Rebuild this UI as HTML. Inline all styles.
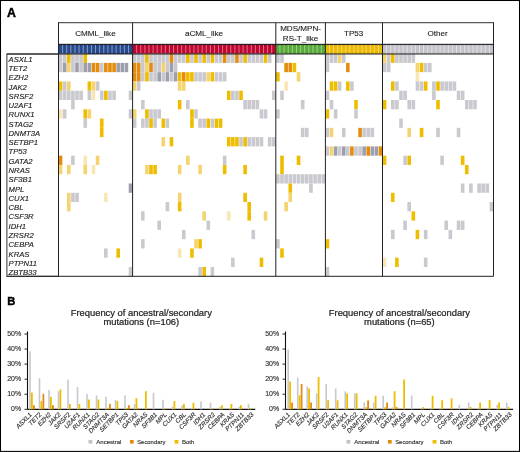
<!DOCTYPE html><html><head><meta charset="utf-8"><style>html,body{margin:0;padding:0;background:#fff;width:520px;height:452px;overflow:hidden}svg{display:block;will-change:transform}text{font-family:"Liberation Sans",sans-serif}.t{stroke:#222;stroke-width:0.12}.t2{stroke:#333;stroke-width:0.15}.t3{stroke:#222;stroke-width:0.14}.t4{stroke:#222;stroke-width:0.22}</style></head><body>
<svg width="520" height="452" viewBox="0 0 520 452">
<rect x="0" y="0" width="520" height="452" fill="#fff"/>
<rect x="0.5" y="0.5" width="519" height="450.9" fill="none" stroke="#000" stroke-width="1.05"/>
<text x="6.9" y="16.6" font-size="12.3" font-weight="bold" fill="#000" stroke="#000" stroke-width="0.45">A</text>
<rect x="58.5" y="22.7" width="435.0" height="21.7" fill="#fff" stroke="#333" stroke-width="1"/>
<text x="95.4" y="36.2" class="t" font-size="8.1" text-anchor="middle" fill="#222">CMML_like</text>
<text x="204" y="36.2" class="t" font-size="8.1" text-anchor="middle" fill="#222">aCML_like</text>
<text x="353.7" y="36.2" class="t" font-size="8.1" text-anchor="middle" fill="#222">TP53</text>
<text x="437.5" y="36.2" class="t" font-size="8.1" text-anchor="middle" fill="#222">Other</text>
<text x="300.6" y="30.8" class="t" font-size="8.1" text-anchor="middle" fill="#222">MDS/MPN-</text>
<text x="300.6" y="40.8" class="t" font-size="8.1" text-anchor="middle" fill="#222">RS-T_like</text>
<rect x="58.5" y="44.4" width="74.1" height="9.600000000000001" fill="#284a8a"/>
<rect x="58.5" y="44.8" width="74.1" height="1" fill="#15336e" opacity="0.6"/>
<rect x="58.5" y="52.5" width="74.1" height="1" fill="#15336e" opacity="0.6"/>
<rect x="62.17" y="45.0" width="0.9" height="8.400000000000002" fill="#8ba2cf"/>
<rect x="66.28" y="45.0" width="0.9" height="8.400000000000002" fill="#8ba2cf"/>
<rect x="70.40" y="45.0" width="0.9" height="8.400000000000002" fill="#8ba2cf"/>
<rect x="74.52" y="45.0" width="0.9" height="8.400000000000002" fill="#8ba2cf"/>
<rect x="78.63" y="45.0" width="0.9" height="8.400000000000002" fill="#8ba2cf"/>
<rect x="82.75" y="45.0" width="0.9" height="8.400000000000002" fill="#8ba2cf"/>
<rect x="86.87" y="45.0" width="0.9" height="8.400000000000002" fill="#8ba2cf"/>
<rect x="90.98" y="45.0" width="0.9" height="8.400000000000002" fill="#8ba2cf"/>
<rect x="95.10" y="45.0" width="0.9" height="8.400000000000002" fill="#8ba2cf"/>
<rect x="99.22" y="45.0" width="0.9" height="8.400000000000002" fill="#8ba2cf"/>
<rect x="103.33" y="45.0" width="0.9" height="8.400000000000002" fill="#8ba2cf"/>
<rect x="107.45" y="45.0" width="0.9" height="8.400000000000002" fill="#8ba2cf"/>
<rect x="111.57" y="45.0" width="0.9" height="8.400000000000002" fill="#8ba2cf"/>
<rect x="115.68" y="45.0" width="0.9" height="8.400000000000002" fill="#8ba2cf"/>
<rect x="119.80" y="45.0" width="0.9" height="8.400000000000002" fill="#8ba2cf"/>
<rect x="123.92" y="45.0" width="0.9" height="8.400000000000002" fill="#8ba2cf"/>
<rect x="128.03" y="45.0" width="0.9" height="8.400000000000002" fill="#8ba2cf"/>
<rect x="132.6" y="44.4" width="143.20000000000002" height="9.600000000000001" fill="#bf0630"/>
<rect x="132.6" y="44.8" width="143.20000000000002" height="1" fill="#8c0022" opacity="0.6"/>
<rect x="132.6" y="52.5" width="143.20000000000002" height="1" fill="#8c0022" opacity="0.6"/>
<rect x="136.24" y="45.0" width="0.9" height="8.400000000000002" fill="#e07890"/>
<rect x="140.33" y="45.0" width="0.9" height="8.400000000000002" fill="#e07890"/>
<rect x="144.42" y="45.0" width="0.9" height="8.400000000000002" fill="#e07890"/>
<rect x="148.52" y="45.0" width="0.9" height="8.400000000000002" fill="#e07890"/>
<rect x="152.61" y="45.0" width="0.9" height="8.400000000000002" fill="#e07890"/>
<rect x="156.70" y="45.0" width="0.9" height="8.400000000000002" fill="#e07890"/>
<rect x="160.79" y="45.0" width="0.9" height="8.400000000000002" fill="#e07890"/>
<rect x="164.88" y="45.0" width="0.9" height="8.400000000000002" fill="#e07890"/>
<rect x="168.97" y="45.0" width="0.9" height="8.400000000000002" fill="#e07890"/>
<rect x="173.06" y="45.0" width="0.9" height="8.400000000000002" fill="#e07890"/>
<rect x="177.16" y="45.0" width="0.9" height="8.400000000000002" fill="#e07890"/>
<rect x="181.25" y="45.0" width="0.9" height="8.400000000000002" fill="#e07890"/>
<rect x="185.34" y="45.0" width="0.9" height="8.400000000000002" fill="#e07890"/>
<rect x="189.43" y="45.0" width="0.9" height="8.400000000000002" fill="#e07890"/>
<rect x="193.52" y="45.0" width="0.9" height="8.400000000000002" fill="#e07890"/>
<rect x="197.61" y="45.0" width="0.9" height="8.400000000000002" fill="#e07890"/>
<rect x="201.70" y="45.0" width="0.9" height="8.400000000000002" fill="#e07890"/>
<rect x="205.80" y="45.0" width="0.9" height="8.400000000000002" fill="#e07890"/>
<rect x="209.89" y="45.0" width="0.9" height="8.400000000000002" fill="#e07890"/>
<rect x="213.98" y="45.0" width="0.9" height="8.400000000000002" fill="#e07890"/>
<rect x="218.07" y="45.0" width="0.9" height="8.400000000000002" fill="#e07890"/>
<rect x="222.16" y="45.0" width="0.9" height="8.400000000000002" fill="#e07890"/>
<rect x="226.25" y="45.0" width="0.9" height="8.400000000000002" fill="#e07890"/>
<rect x="230.34" y="45.0" width="0.9" height="8.400000000000002" fill="#e07890"/>
<rect x="234.44" y="45.0" width="0.9" height="8.400000000000002" fill="#e07890"/>
<rect x="238.53" y="45.0" width="0.9" height="8.400000000000002" fill="#e07890"/>
<rect x="242.62" y="45.0" width="0.9" height="8.400000000000002" fill="#e07890"/>
<rect x="246.71" y="45.0" width="0.9" height="8.400000000000002" fill="#e07890"/>
<rect x="250.80" y="45.0" width="0.9" height="8.400000000000002" fill="#e07890"/>
<rect x="254.89" y="45.0" width="0.9" height="8.400000000000002" fill="#e07890"/>
<rect x="258.98" y="45.0" width="0.9" height="8.400000000000002" fill="#e07890"/>
<rect x="263.08" y="45.0" width="0.9" height="8.400000000000002" fill="#e07890"/>
<rect x="267.17" y="45.0" width="0.9" height="8.400000000000002" fill="#e07890"/>
<rect x="271.26" y="45.0" width="0.9" height="8.400000000000002" fill="#e07890"/>
<rect x="275.8" y="44.4" width="49.599999999999966" height="9.600000000000001" fill="#58aa3a"/>
<rect x="275.8" y="44.8" width="49.599999999999966" height="1" fill="#3d8a28" opacity="0.6"/>
<rect x="275.8" y="52.5" width="49.599999999999966" height="1" fill="#3d8a28" opacity="0.6"/>
<rect x="279.48" y="45.0" width="0.9" height="8.400000000000002" fill="#a6d48e"/>
<rect x="283.62" y="45.0" width="0.9" height="8.400000000000002" fill="#a6d48e"/>
<rect x="287.75" y="45.0" width="0.9" height="8.400000000000002" fill="#a6d48e"/>
<rect x="291.88" y="45.0" width="0.9" height="8.400000000000002" fill="#a6d48e"/>
<rect x="296.02" y="45.0" width="0.9" height="8.400000000000002" fill="#a6d48e"/>
<rect x="300.15" y="45.0" width="0.9" height="8.400000000000002" fill="#a6d48e"/>
<rect x="304.28" y="45.0" width="0.9" height="8.400000000000002" fill="#a6d48e"/>
<rect x="308.42" y="45.0" width="0.9" height="8.400000000000002" fill="#a6d48e"/>
<rect x="312.55" y="45.0" width="0.9" height="8.400000000000002" fill="#a6d48e"/>
<rect x="316.68" y="45.0" width="0.9" height="8.400000000000002" fill="#a6d48e"/>
<rect x="320.82" y="45.0" width="0.9" height="8.400000000000002" fill="#a6d48e"/>
<rect x="325.4" y="44.4" width="57.10000000000002" height="9.600000000000001" fill="#edbb00"/>
<rect x="325.4" y="44.8" width="57.10000000000002" height="1" fill="#c89800" opacity="0.6"/>
<rect x="325.4" y="52.5" width="57.10000000000002" height="1" fill="#c89800" opacity="0.6"/>
<rect x="329.03" y="45.0" width="0.9" height="8.400000000000002" fill="#f6da80"/>
<rect x="333.11" y="45.0" width="0.9" height="8.400000000000002" fill="#f6da80"/>
<rect x="337.19" y="45.0" width="0.9" height="8.400000000000002" fill="#f6da80"/>
<rect x="341.26" y="45.0" width="0.9" height="8.400000000000002" fill="#f6da80"/>
<rect x="345.34" y="45.0" width="0.9" height="8.400000000000002" fill="#f6da80"/>
<rect x="349.42" y="45.0" width="0.9" height="8.400000000000002" fill="#f6da80"/>
<rect x="353.50" y="45.0" width="0.9" height="8.400000000000002" fill="#f6da80"/>
<rect x="357.58" y="45.0" width="0.9" height="8.400000000000002" fill="#f6da80"/>
<rect x="361.66" y="45.0" width="0.9" height="8.400000000000002" fill="#f6da80"/>
<rect x="365.74" y="45.0" width="0.9" height="8.400000000000002" fill="#f6da80"/>
<rect x="369.81" y="45.0" width="0.9" height="8.400000000000002" fill="#f6da80"/>
<rect x="373.89" y="45.0" width="0.9" height="8.400000000000002" fill="#f6da80"/>
<rect x="377.97" y="45.0" width="0.9" height="8.400000000000002" fill="#f6da80"/>
<rect x="382.5" y="44.4" width="111.0" height="9.600000000000001" fill="#c4c4ca"/>
<rect x="382.5" y="44.8" width="111.0" height="1" fill="#a8a8b0" opacity="0.6"/>
<rect x="382.5" y="52.5" width="111.0" height="1" fill="#a8a8b0" opacity="0.6"/>
<rect x="386.16" y="45.0" width="0.9" height="8.400000000000002" fill="#e4e4e8"/>
<rect x="390.27" y="45.0" width="0.9" height="8.400000000000002" fill="#e4e4e8"/>
<rect x="394.38" y="45.0" width="0.9" height="8.400000000000002" fill="#e4e4e8"/>
<rect x="398.49" y="45.0" width="0.9" height="8.400000000000002" fill="#e4e4e8"/>
<rect x="402.61" y="45.0" width="0.9" height="8.400000000000002" fill="#e4e4e8"/>
<rect x="406.72" y="45.0" width="0.9" height="8.400000000000002" fill="#e4e4e8"/>
<rect x="410.83" y="45.0" width="0.9" height="8.400000000000002" fill="#e4e4e8"/>
<rect x="414.94" y="45.0" width="0.9" height="8.400000000000002" fill="#e4e4e8"/>
<rect x="419.05" y="45.0" width="0.9" height="8.400000000000002" fill="#e4e4e8"/>
<rect x="423.16" y="45.0" width="0.9" height="8.400000000000002" fill="#e4e4e8"/>
<rect x="427.27" y="45.0" width="0.9" height="8.400000000000002" fill="#e4e4e8"/>
<rect x="431.38" y="45.0" width="0.9" height="8.400000000000002" fill="#e4e4e8"/>
<rect x="435.49" y="45.0" width="0.9" height="8.400000000000002" fill="#e4e4e8"/>
<rect x="439.61" y="45.0" width="0.9" height="8.400000000000002" fill="#e4e4e8"/>
<rect x="443.72" y="45.0" width="0.9" height="8.400000000000002" fill="#e4e4e8"/>
<rect x="447.83" y="45.0" width="0.9" height="8.400000000000002" fill="#e4e4e8"/>
<rect x="451.94" y="45.0" width="0.9" height="8.400000000000002" fill="#e4e4e8"/>
<rect x="456.05" y="45.0" width="0.9" height="8.400000000000002" fill="#e4e4e8"/>
<rect x="460.16" y="45.0" width="0.9" height="8.400000000000002" fill="#e4e4e8"/>
<rect x="464.27" y="45.0" width="0.9" height="8.400000000000002" fill="#e4e4e8"/>
<rect x="468.38" y="45.0" width="0.9" height="8.400000000000002" fill="#e4e4e8"/>
<rect x="472.49" y="45.0" width="0.9" height="8.400000000000002" fill="#e4e4e8"/>
<rect x="476.61" y="45.0" width="0.9" height="8.400000000000002" fill="#e4e4e8"/>
<rect x="480.72" y="45.0" width="0.9" height="8.400000000000002" fill="#e4e4e8"/>
<rect x="484.83" y="45.0" width="0.9" height="8.400000000000002" fill="#e4e4e8"/>
<rect x="488.94" y="45.0" width="0.9" height="8.400000000000002" fill="#e4e4e8"/>
<line x1="58.5" y1="44.4" x2="493.5" y2="44.4" stroke="#222" stroke-width="1"/>
<rect x="58.75" y="53.62" width="3.62" height="9.28" fill="#c9c9cf"/>
<rect x="62.87" y="53.62" width="3.62" height="9.28" fill="#c9c9cf"/>
<rect x="66.98" y="53.62" width="3.62" height="9.28" fill="#efbd00"/>
<rect x="71.10" y="53.62" width="3.62" height="9.28" fill="#c9c9cf"/>
<rect x="75.22" y="53.62" width="3.62" height="9.28" fill="#c9c9cf"/>
<rect x="79.33" y="53.62" width="3.62" height="9.28" fill="#c9c9cf"/>
<rect x="83.45" y="53.62" width="3.62" height="9.28" fill="#efbd00"/>
<rect x="132.85" y="53.62" width="3.59" height="9.28" fill="#c9c9cf"/>
<rect x="136.94" y="53.62" width="3.59" height="9.28" fill="#c9c9cf"/>
<rect x="141.03" y="53.62" width="3.59" height="9.28" fill="#c9c9cf"/>
<rect x="145.12" y="53.62" width="3.59" height="9.28" fill="#efbd00"/>
<rect x="149.22" y="53.62" width="3.59" height="9.28" fill="#c9c9cf"/>
<rect x="153.31" y="53.62" width="3.59" height="9.28" fill="#c9c9cf"/>
<rect x="157.40" y="53.62" width="3.59" height="9.28" fill="#c9c9cf"/>
<rect x="161.49" y="53.62" width="3.59" height="9.28" fill="#c9c9cf"/>
<rect x="165.58" y="53.62" width="3.59" height="9.28" fill="#c9c9cf"/>
<rect x="169.67" y="53.62" width="3.59" height="9.28" fill="#e38c0d"/>
<rect x="173.76" y="53.62" width="3.59" height="9.28" fill="#c9c9cf"/>
<rect x="177.86" y="53.62" width="3.59" height="9.28" fill="#c9c9cf"/>
<rect x="181.95" y="53.62" width="3.59" height="9.28" fill="#c9c9cf"/>
<rect x="186.04" y="53.62" width="3.59" height="9.28" fill="#efbd00"/>
<rect x="190.13" y="53.62" width="3.59" height="9.28" fill="#c9c9cf"/>
<rect x="194.22" y="53.62" width="3.59" height="9.28" fill="#efbd00"/>
<rect x="198.31" y="53.62" width="3.59" height="9.28" fill="#c9c9cf"/>
<rect x="202.40" y="53.62" width="3.59" height="9.28" fill="#efbd00"/>
<rect x="206.50" y="53.62" width="3.59" height="9.28" fill="#c9c9cf"/>
<rect x="210.59" y="53.62" width="3.59" height="9.28" fill="#efbd00"/>
<rect x="214.68" y="53.62" width="3.59" height="9.28" fill="#c9c9cf"/>
<rect x="218.77" y="53.62" width="3.59" height="9.28" fill="#c9c9cf"/>
<rect x="222.86" y="53.62" width="3.59" height="9.28" fill="#e38c0d"/>
<rect x="226.95" y="53.62" width="3.59" height="9.28" fill="#c9c9cf"/>
<rect x="231.04" y="53.62" width="3.59" height="9.28" fill="#c9c9cf"/>
<rect x="235.14" y="53.62" width="3.59" height="9.28" fill="#e38c0d"/>
<rect x="239.23" y="53.62" width="3.59" height="9.28" fill="#c9c9cf"/>
<rect x="243.32" y="53.62" width="3.59" height="9.28" fill="#efbd00"/>
<rect x="247.41" y="53.62" width="3.59" height="9.28" fill="#c9c9cf"/>
<rect x="251.50" y="53.62" width="3.59" height="9.28" fill="#c9c9cf"/>
<rect x="255.59" y="53.62" width="3.59" height="9.28" fill="#c9c9cf"/>
<rect x="259.68" y="53.62" width="3.59" height="9.28" fill="#c9c9cf"/>
<rect x="263.78" y="53.62" width="3.59" height="9.28" fill="#efbd00"/>
<rect x="267.87" y="53.62" width="3.59" height="9.28" fill="#c9c9cf"/>
<rect x="276.05" y="53.62" width="3.63" height="9.28" fill="#c9c9cf"/>
<rect x="280.18" y="53.62" width="3.63" height="9.28" fill="#c9c9cf"/>
<rect x="325.65" y="53.62" width="3.58" height="9.28" fill="#c9c9cf"/>
<rect x="329.73" y="53.62" width="3.58" height="9.28" fill="#c9c9cf"/>
<rect x="333.81" y="53.62" width="3.58" height="9.28" fill="#c9c9cf"/>
<rect x="337.89" y="53.62" width="3.58" height="9.28" fill="#f5d36f"/>
<rect x="341.96" y="53.62" width="3.58" height="9.28" fill="#c9c9cf"/>
<rect x="382.75" y="53.62" width="3.61" height="9.28" fill="#f5d36f"/>
<rect x="386.86" y="53.62" width="3.61" height="9.28" fill="#c9c9cf"/>
<rect x="390.97" y="53.62" width="3.61" height="9.28" fill="#efbd00"/>
<rect x="395.08" y="53.62" width="3.61" height="9.28" fill="#c9c9cf"/>
<rect x="399.19" y="53.62" width="3.61" height="9.28" fill="#c9c9cf"/>
<rect x="403.31" y="53.62" width="3.61" height="9.28" fill="#c9c9cf"/>
<rect x="407.42" y="53.62" width="3.61" height="9.28" fill="#c9c9cf"/>
<rect x="411.53" y="53.62" width="3.61" height="9.28" fill="#c9c9cf"/>
<rect x="58.75" y="62.90" width="3.62" height="9.28" fill="#c9c9cf"/>
<rect x="62.87" y="62.90" width="3.62" height="9.28" fill="#9d9fad"/>
<rect x="66.98" y="62.90" width="3.62" height="9.28" fill="#f5d36f"/>
<rect x="71.10" y="62.90" width="3.62" height="9.28" fill="#c9c9cf"/>
<rect x="75.22" y="62.90" width="3.62" height="9.28" fill="#9d9fad"/>
<rect x="79.33" y="62.90" width="3.62" height="9.28" fill="#c9c9cf"/>
<rect x="83.45" y="62.90" width="3.62" height="9.28" fill="#9d9fad"/>
<rect x="87.57" y="62.90" width="3.62" height="9.28" fill="#9d9fad"/>
<rect x="91.68" y="62.90" width="3.62" height="9.28" fill="#e38c0d"/>
<rect x="95.80" y="62.90" width="3.62" height="9.28" fill="#e38c0d"/>
<rect x="99.92" y="62.90" width="3.62" height="9.28" fill="#c9c9cf"/>
<rect x="104.03" y="62.90" width="3.62" height="9.28" fill="#e38c0d"/>
<rect x="108.15" y="62.90" width="3.62" height="9.28" fill="#e38c0d"/>
<rect x="112.27" y="62.90" width="3.62" height="9.28" fill="#e38c0d"/>
<rect x="116.38" y="62.90" width="3.62" height="9.28" fill="#9d9fad"/>
<rect x="120.50" y="62.90" width="3.62" height="9.28" fill="#9d9fad"/>
<rect x="124.62" y="62.90" width="3.62" height="9.28" fill="#9d9fad"/>
<rect x="132.85" y="62.90" width="3.59" height="9.28" fill="#e38c0d"/>
<rect x="136.94" y="62.90" width="3.59" height="9.28" fill="#e38c0d"/>
<rect x="141.03" y="62.90" width="3.59" height="9.28" fill="#c9c9cf"/>
<rect x="145.12" y="62.90" width="3.59" height="9.28" fill="#f5d36f"/>
<rect x="149.22" y="62.90" width="3.59" height="9.28" fill="#e38c0d"/>
<rect x="153.31" y="62.90" width="3.59" height="9.28" fill="#c9c9cf"/>
<rect x="157.40" y="62.90" width="3.59" height="9.28" fill="#c9c9cf"/>
<rect x="161.49" y="62.90" width="3.59" height="9.28" fill="#f5d36f"/>
<rect x="165.58" y="62.90" width="3.59" height="9.28" fill="#c9c9cf"/>
<rect x="169.67" y="62.90" width="3.59" height="9.28" fill="#9d9fad"/>
<rect x="173.76" y="62.90" width="3.59" height="9.28" fill="#c9c9cf"/>
<rect x="284.32" y="62.90" width="3.63" height="9.28" fill="#e38c0d"/>
<rect x="288.45" y="62.90" width="3.63" height="9.28" fill="#e38c0d"/>
<rect x="292.58" y="62.90" width="3.63" height="9.28" fill="#efbd00"/>
<rect x="325.65" y="62.90" width="3.58" height="9.28" fill="#c9c9cf"/>
<rect x="346.04" y="62.90" width="3.58" height="9.28" fill="#e38c0d"/>
<rect x="382.75" y="62.90" width="3.61" height="9.28" fill="#c9c9cf"/>
<rect x="386.86" y="62.90" width="3.61" height="9.28" fill="#c9c9cf"/>
<rect x="415.64" y="62.90" width="3.61" height="9.28" fill="#f5d36f"/>
<rect x="419.75" y="62.90" width="3.61" height="9.28" fill="#efbd00"/>
<rect x="423.86" y="62.90" width="3.61" height="9.28" fill="#c9c9cf"/>
<rect x="427.97" y="62.90" width="3.61" height="9.28" fill="#c9c9cf"/>
<rect x="132.85" y="72.17" width="3.59" height="9.28" fill="#e38c0d"/>
<rect x="136.94" y="72.17" width="3.59" height="9.28" fill="#e38c0d"/>
<rect x="141.03" y="72.17" width="3.59" height="9.28" fill="#c9c9cf"/>
<rect x="145.12" y="72.17" width="3.59" height="9.28" fill="#efbd00"/>
<rect x="149.22" y="72.17" width="3.59" height="9.28" fill="#c9c9cf"/>
<rect x="153.31" y="72.17" width="3.59" height="9.28" fill="#c9c9cf"/>
<rect x="157.40" y="72.17" width="3.59" height="9.28" fill="#9d9fad"/>
<rect x="161.49" y="72.17" width="3.59" height="9.28" fill="#c9c9cf"/>
<rect x="165.58" y="72.17" width="3.59" height="9.28" fill="#9d9fad"/>
<rect x="169.67" y="72.17" width="3.59" height="9.28" fill="#c9c9cf"/>
<rect x="173.76" y="72.17" width="3.59" height="9.28" fill="#9d9fad"/>
<rect x="177.86" y="72.17" width="3.59" height="9.28" fill="#efbd00"/>
<rect x="181.95" y="72.17" width="3.59" height="9.28" fill="#e38c0d"/>
<rect x="186.04" y="72.17" width="3.59" height="9.28" fill="#efbd00"/>
<rect x="190.13" y="72.17" width="3.59" height="9.28" fill="#efbd00"/>
<rect x="194.22" y="72.17" width="3.59" height="9.28" fill="#c9c9cf"/>
<rect x="198.31" y="72.17" width="3.59" height="9.28" fill="#c9c9cf"/>
<rect x="202.40" y="72.17" width="3.59" height="9.28" fill="#c9c9cf"/>
<rect x="206.50" y="72.17" width="3.59" height="9.28" fill="#f5d36f"/>
<rect x="210.59" y="72.17" width="3.59" height="9.28" fill="#efbd00"/>
<rect x="214.68" y="72.17" width="3.59" height="9.28" fill="#c9c9cf"/>
<rect x="218.77" y="72.17" width="3.59" height="9.28" fill="#c9c9cf"/>
<rect x="222.86" y="72.17" width="3.59" height="9.28" fill="#c9c9cf"/>
<rect x="276.05" y="72.17" width="3.63" height="9.28" fill="#efbd00"/>
<rect x="296.72" y="72.17" width="3.63" height="9.28" fill="#f5d36f"/>
<rect x="415.64" y="72.17" width="3.61" height="9.28" fill="#f8e6b4"/>
<rect x="58.75" y="81.45" width="3.62" height="9.28" fill="#efbd00"/>
<rect x="62.87" y="81.45" width="3.62" height="9.28" fill="#c9c9cf"/>
<rect x="66.98" y="81.45" width="3.62" height="9.28" fill="#f5d36f"/>
<rect x="87.57" y="81.45" width="3.62" height="9.28" fill="#efbd00"/>
<rect x="91.68" y="81.45" width="3.62" height="9.28" fill="#f5d36f"/>
<rect x="95.80" y="81.45" width="3.62" height="9.28" fill="#c9c9cf"/>
<rect x="132.85" y="81.45" width="3.59" height="9.28" fill="#f5d36f"/>
<rect x="136.94" y="81.45" width="3.59" height="9.28" fill="#c9c9cf"/>
<rect x="177.86" y="81.45" width="3.59" height="9.28" fill="#f5d36f"/>
<rect x="181.95" y="81.45" width="3.59" height="9.28" fill="#f5d36f"/>
<rect x="284.32" y="81.45" width="3.63" height="9.28" fill="#f8e6b4"/>
<rect x="329.73" y="81.45" width="3.58" height="9.28" fill="#efbd00"/>
<rect x="333.81" y="81.45" width="3.58" height="9.28" fill="#efbd00"/>
<rect x="337.89" y="81.45" width="3.58" height="9.28" fill="#c9c9cf"/>
<rect x="346.04" y="81.45" width="3.58" height="9.28" fill="#efbd00"/>
<rect x="350.12" y="81.45" width="3.58" height="9.28" fill="#c9c9cf"/>
<rect x="390.97" y="81.45" width="3.61" height="9.28" fill="#efbd00"/>
<rect x="395.08" y="81.45" width="3.61" height="9.28" fill="#c9c9cf"/>
<rect x="415.64" y="81.45" width="3.61" height="9.28" fill="#c9c9cf"/>
<rect x="419.75" y="81.45" width="3.61" height="9.28" fill="#c9c9cf"/>
<rect x="423.86" y="81.45" width="3.61" height="9.28" fill="#efbd00"/>
<rect x="432.08" y="81.45" width="3.61" height="9.28" fill="#c9c9cf"/>
<rect x="436.19" y="81.45" width="3.61" height="9.28" fill="#efbd00"/>
<rect x="440.31" y="81.45" width="3.61" height="9.28" fill="#c9c9cf"/>
<rect x="444.42" y="81.45" width="3.61" height="9.28" fill="#c9c9cf"/>
<rect x="448.53" y="81.45" width="3.61" height="9.28" fill="#c9c9cf"/>
<rect x="452.64" y="81.45" width="3.61" height="9.28" fill="#c9c9cf"/>
<rect x="58.75" y="90.73" width="3.62" height="9.28" fill="#c9c9cf"/>
<rect x="62.87" y="90.73" width="3.62" height="9.28" fill="#c9c9cf"/>
<rect x="66.98" y="90.73" width="3.62" height="9.28" fill="#c9c9cf"/>
<rect x="71.10" y="90.73" width="3.62" height="9.28" fill="#c9c9cf"/>
<rect x="75.22" y="90.73" width="3.62" height="9.28" fill="#c9c9cf"/>
<rect x="79.33" y="90.73" width="3.62" height="9.28" fill="#c9c9cf"/>
<rect x="87.57" y="90.73" width="3.62" height="9.28" fill="#c9c9cf"/>
<rect x="91.68" y="90.73" width="3.62" height="9.28" fill="#f8e6b4"/>
<rect x="99.92" y="90.73" width="3.62" height="9.28" fill="#c9c9cf"/>
<rect x="104.03" y="90.73" width="3.62" height="9.28" fill="#efbd00"/>
<rect x="108.15" y="90.73" width="3.62" height="9.28" fill="#c9c9cf"/>
<rect x="112.27" y="90.73" width="3.62" height="9.28" fill="#c9c9cf"/>
<rect x="128.73" y="90.73" width="3.62" height="9.28" fill="#c9c9cf"/>
<rect x="226.95" y="90.73" width="3.59" height="9.28" fill="#efbd00"/>
<rect x="231.04" y="90.73" width="3.59" height="9.28" fill="#c9c9cf"/>
<rect x="235.14" y="90.73" width="3.59" height="9.28" fill="#c9c9cf"/>
<rect x="239.23" y="90.73" width="3.59" height="9.28" fill="#efbd00"/>
<rect x="271.96" y="90.73" width="3.59" height="9.28" fill="#c9c9cf"/>
<rect x="280.18" y="90.73" width="3.63" height="9.28" fill="#c9c9cf"/>
<rect x="325.65" y="90.73" width="3.58" height="9.28" fill="#c9c9cf"/>
<rect x="399.19" y="90.73" width="3.61" height="9.28" fill="#c9c9cf"/>
<rect x="403.31" y="90.73" width="3.61" height="9.28" fill="#c9c9cf"/>
<rect x="432.08" y="90.73" width="3.61" height="9.28" fill="#c9c9cf"/>
<rect x="456.75" y="90.73" width="3.61" height="9.28" fill="#c9c9cf"/>
<rect x="460.86" y="90.73" width="3.61" height="9.28" fill="#c9c9cf"/>
<rect x="71.10" y="100.00" width="3.62" height="9.28" fill="#c9c9cf"/>
<rect x="141.03" y="100.00" width="3.59" height="9.28" fill="#c9c9cf"/>
<rect x="177.86" y="100.00" width="3.59" height="9.28" fill="#efbd00"/>
<rect x="186.04" y="100.00" width="3.59" height="9.28" fill="#c9c9cf"/>
<rect x="243.32" y="100.00" width="3.59" height="9.28" fill="#c9c9cf"/>
<rect x="247.41" y="100.00" width="3.59" height="9.28" fill="#c9c9cf"/>
<rect x="251.50" y="100.00" width="3.59" height="9.28" fill="#c9c9cf"/>
<rect x="255.59" y="100.00" width="3.59" height="9.28" fill="#c9c9cf"/>
<rect x="300.85" y="100.00" width="3.63" height="9.28" fill="#c9c9cf"/>
<rect x="329.73" y="100.00" width="3.58" height="9.28" fill="#c9c9cf"/>
<rect x="354.20" y="100.00" width="3.58" height="9.28" fill="#efbd00"/>
<rect x="382.75" y="100.00" width="3.61" height="9.28" fill="#efbd00"/>
<rect x="390.97" y="100.00" width="3.61" height="9.28" fill="#c9c9cf"/>
<rect x="395.08" y="100.00" width="3.61" height="9.28" fill="#c9c9cf"/>
<rect x="407.42" y="100.00" width="3.61" height="9.28" fill="#c9c9cf"/>
<rect x="411.53" y="100.00" width="3.61" height="9.28" fill="#c9c9cf"/>
<rect x="436.19" y="100.00" width="3.61" height="9.28" fill="#efbd00"/>
<rect x="464.97" y="100.00" width="3.61" height="9.28" fill="#c9c9cf"/>
<rect x="469.08" y="100.00" width="3.61" height="9.28" fill="#c9c9cf"/>
<rect x="473.19" y="100.00" width="3.61" height="9.28" fill="#c9c9cf"/>
<rect x="58.75" y="109.28" width="3.62" height="9.28" fill="#f8e6b4"/>
<rect x="62.87" y="109.28" width="3.62" height="9.28" fill="#c9c9cf"/>
<rect x="83.45" y="109.28" width="3.62" height="9.28" fill="#efbd00"/>
<rect x="87.57" y="109.28" width="3.62" height="9.28" fill="#f5d36f"/>
<rect x="128.73" y="109.28" width="3.62" height="9.28" fill="#c9c9cf"/>
<rect x="132.85" y="109.28" width="3.59" height="9.28" fill="#f5d36f"/>
<rect x="145.12" y="109.28" width="3.59" height="9.28" fill="#efbd00"/>
<rect x="149.22" y="109.28" width="3.59" height="9.28" fill="#c9c9cf"/>
<rect x="153.31" y="109.28" width="3.59" height="9.28" fill="#c9c9cf"/>
<rect x="157.40" y="109.28" width="3.59" height="9.28" fill="#c9c9cf"/>
<rect x="190.13" y="109.28" width="3.59" height="9.28" fill="#efbd00"/>
<rect x="194.22" y="109.28" width="3.59" height="9.28" fill="#c9c9cf"/>
<rect x="259.68" y="109.28" width="3.59" height="9.28" fill="#c9c9cf"/>
<rect x="263.78" y="109.28" width="3.59" height="9.28" fill="#c9c9cf"/>
<rect x="276.05" y="109.28" width="3.63" height="9.28" fill="#c9c9cf"/>
<rect x="325.65" y="109.28" width="3.58" height="9.28" fill="#efbd00"/>
<rect x="333.81" y="109.28" width="3.58" height="9.28" fill="#c9c9cf"/>
<rect x="354.20" y="109.28" width="3.58" height="9.28" fill="#c9c9cf"/>
<rect x="83.45" y="118.56" width="3.62" height="9.28" fill="#c9c9cf"/>
<rect x="99.92" y="118.56" width="3.62" height="9.28" fill="#efbd00"/>
<rect x="132.85" y="118.56" width="3.59" height="9.28" fill="#c9c9cf"/>
<rect x="141.03" y="118.56" width="3.59" height="9.28" fill="#c9c9cf"/>
<rect x="145.12" y="118.56" width="3.59" height="9.28" fill="#c9c9cf"/>
<rect x="149.22" y="118.56" width="3.59" height="9.28" fill="#efbd00"/>
<rect x="153.31" y="118.56" width="3.59" height="9.28" fill="#c9c9cf"/>
<rect x="161.49" y="118.56" width="3.59" height="9.28" fill="#efbd00"/>
<rect x="165.58" y="118.56" width="3.59" height="9.28" fill="#c9c9cf"/>
<rect x="190.13" y="118.56" width="3.59" height="9.28" fill="#efbd00"/>
<rect x="198.31" y="118.56" width="3.59" height="9.28" fill="#c9c9cf"/>
<rect x="202.40" y="118.56" width="3.59" height="9.28" fill="#c9c9cf"/>
<rect x="206.50" y="118.56" width="3.59" height="9.28" fill="#efbd00"/>
<rect x="210.59" y="118.56" width="3.59" height="9.28" fill="#c9c9cf"/>
<rect x="214.68" y="118.56" width="3.59" height="9.28" fill="#efbd00"/>
<rect x="218.77" y="118.56" width="3.59" height="9.28" fill="#efbd00"/>
<rect x="399.19" y="118.56" width="3.61" height="9.28" fill="#c9c9cf"/>
<rect x="99.92" y="127.84" width="3.62" height="9.28" fill="#efbd00"/>
<rect x="300.85" y="127.84" width="3.63" height="9.28" fill="#c9c9cf"/>
<rect x="304.98" y="127.84" width="3.63" height="9.28" fill="#c9c9cf"/>
<rect x="325.65" y="127.84" width="3.58" height="9.28" fill="#c9c9cf"/>
<rect x="329.73" y="127.84" width="3.58" height="9.28" fill="#f5d36f"/>
<rect x="341.96" y="127.84" width="3.58" height="9.28" fill="#c9c9cf"/>
<rect x="358.28" y="127.84" width="3.58" height="9.28" fill="#e38c0d"/>
<rect x="362.36" y="127.84" width="3.58" height="9.28" fill="#c9c9cf"/>
<rect x="366.44" y="127.84" width="3.58" height="9.28" fill="#c9c9cf"/>
<rect x="370.51" y="127.84" width="3.58" height="9.28" fill="#c9c9cf"/>
<rect x="407.42" y="127.84" width="3.61" height="9.28" fill="#f5d36f"/>
<rect x="419.75" y="127.84" width="3.61" height="9.28" fill="#efbd00"/>
<rect x="436.19" y="127.84" width="3.61" height="9.28" fill="#c9c9cf"/>
<rect x="456.75" y="127.84" width="3.61" height="9.28" fill="#c9c9cf"/>
<rect x="161.49" y="137.11" width="3.59" height="9.28" fill="#f5d36f"/>
<rect x="169.67" y="137.11" width="3.59" height="9.28" fill="#efbd00"/>
<rect x="226.95" y="137.11" width="3.59" height="9.28" fill="#efbd00"/>
<rect x="231.04" y="137.11" width="3.59" height="9.28" fill="#efbd00"/>
<rect x="235.14" y="137.11" width="3.59" height="9.28" fill="#efbd00"/>
<rect x="239.23" y="137.11" width="3.59" height="9.28" fill="#c9c9cf"/>
<rect x="243.32" y="137.11" width="3.59" height="9.28" fill="#efbd00"/>
<rect x="247.41" y="137.11" width="3.59" height="9.28" fill="#c9c9cf"/>
<rect x="251.50" y="137.11" width="3.59" height="9.28" fill="#c9c9cf"/>
<rect x="255.59" y="137.11" width="3.59" height="9.28" fill="#c9c9cf"/>
<rect x="259.68" y="137.11" width="3.59" height="9.28" fill="#c9c9cf"/>
<rect x="267.87" y="137.11" width="3.59" height="9.28" fill="#c9c9cf"/>
<rect x="271.96" y="137.11" width="3.59" height="9.28" fill="#c9c9cf"/>
<rect x="325.65" y="146.39" width="3.58" height="9.28" fill="#c9c9cf"/>
<rect x="329.73" y="146.39" width="3.58" height="9.28" fill="#f5d36f"/>
<rect x="333.81" y="146.39" width="3.58" height="9.28" fill="#9d9fad"/>
<rect x="337.89" y="146.39" width="3.58" height="9.28" fill="#c9c9cf"/>
<rect x="341.96" y="146.39" width="3.58" height="9.28" fill="#9d9fad"/>
<rect x="346.04" y="146.39" width="3.58" height="9.28" fill="#c9c9cf"/>
<rect x="350.12" y="146.39" width="3.58" height="9.28" fill="#e38c0d"/>
<rect x="354.20" y="146.39" width="3.58" height="9.28" fill="#c9c9cf"/>
<rect x="358.28" y="146.39" width="3.58" height="9.28" fill="#c9c9cf"/>
<rect x="362.36" y="146.39" width="3.58" height="9.28" fill="#9d9fad"/>
<rect x="366.44" y="146.39" width="3.58" height="9.28" fill="#e38c0d"/>
<rect x="370.51" y="146.39" width="3.58" height="9.28" fill="#9d9fad"/>
<rect x="374.59" y="146.39" width="3.58" height="9.28" fill="#9d9fad"/>
<rect x="378.67" y="146.39" width="3.58" height="9.28" fill="#e38c0d"/>
<rect x="58.75" y="155.67" width="3.62" height="9.28" fill="#e38c0d"/>
<rect x="71.10" y="155.67" width="3.62" height="9.28" fill="#c9c9cf"/>
<rect x="83.45" y="155.67" width="3.62" height="9.28" fill="#f8e6b4"/>
<rect x="95.80" y="155.67" width="3.62" height="9.28" fill="#f5d36f"/>
<rect x="186.04" y="155.67" width="3.59" height="9.28" fill="#f5d36f"/>
<rect x="222.86" y="155.67" width="3.59" height="9.28" fill="#c9c9cf"/>
<rect x="280.18" y="155.67" width="3.63" height="9.28" fill="#efbd00"/>
<rect x="296.72" y="155.67" width="3.63" height="9.28" fill="#efbd00"/>
<rect x="382.75" y="155.67" width="3.61" height="9.28" fill="#efbd00"/>
<rect x="403.31" y="155.67" width="3.61" height="9.28" fill="#c9c9cf"/>
<rect x="407.42" y="155.67" width="3.61" height="9.28" fill="#efbd00"/>
<rect x="440.31" y="155.67" width="3.61" height="9.28" fill="#c9c9cf"/>
<rect x="460.86" y="155.67" width="3.61" height="9.28" fill="#efbd00"/>
<rect x="58.75" y="164.94" width="3.62" height="9.28" fill="#f5d36f"/>
<rect x="66.98" y="164.94" width="3.62" height="9.28" fill="#f5d36f"/>
<rect x="83.45" y="164.94" width="3.62" height="9.28" fill="#f5d36f"/>
<rect x="91.68" y="164.94" width="3.62" height="9.28" fill="#f8e6b4"/>
<rect x="145.12" y="164.94" width="3.59" height="9.28" fill="#f5d36f"/>
<rect x="149.22" y="164.94" width="3.59" height="9.28" fill="#efbd00"/>
<rect x="153.31" y="164.94" width="3.59" height="9.28" fill="#efbd00"/>
<rect x="177.86" y="164.94" width="3.59" height="9.28" fill="#f5d36f"/>
<rect x="198.31" y="164.94" width="3.59" height="9.28" fill="#f5d36f"/>
<rect x="222.86" y="164.94" width="3.59" height="9.28" fill="#efbd00"/>
<rect x="243.32" y="164.94" width="3.59" height="9.28" fill="#efbd00"/>
<rect x="280.18" y="164.94" width="3.63" height="9.28" fill="#efbd00"/>
<rect x="464.97" y="164.94" width="3.61" height="9.28" fill="#efbd00"/>
<rect x="276.05" y="174.22" width="3.63" height="9.28" fill="#c9c9cf"/>
<rect x="280.18" y="174.22" width="3.63" height="9.28" fill="#c9c9cf"/>
<rect x="284.32" y="174.22" width="3.63" height="9.28" fill="#c9c9cf"/>
<rect x="288.45" y="174.22" width="3.63" height="9.28" fill="#c9c9cf"/>
<rect x="292.58" y="174.22" width="3.63" height="9.28" fill="#c9c9cf"/>
<rect x="296.72" y="174.22" width="3.63" height="9.28" fill="#c9c9cf"/>
<rect x="300.85" y="174.22" width="3.63" height="9.28" fill="#c9c9cf"/>
<rect x="304.98" y="174.22" width="3.63" height="9.28" fill="#c9c9cf"/>
<rect x="309.12" y="174.22" width="3.63" height="9.28" fill="#c9c9cf"/>
<rect x="313.25" y="174.22" width="3.63" height="9.28" fill="#c9c9cf"/>
<rect x="317.38" y="174.22" width="3.63" height="9.28" fill="#c9c9cf"/>
<rect x="321.52" y="174.22" width="3.63" height="9.28" fill="#c9c9cf"/>
<rect x="128.73" y="183.50" width="3.62" height="9.28" fill="#9d9fad"/>
<rect x="288.45" y="183.50" width="3.63" height="9.28" fill="#efbd00"/>
<rect x="309.12" y="183.50" width="3.63" height="9.28" fill="#c9c9cf"/>
<rect x="460.86" y="183.50" width="3.61" height="9.28" fill="#c9c9cf"/>
<rect x="469.08" y="183.50" width="3.61" height="9.28" fill="#c9c9cf"/>
<rect x="477.31" y="183.50" width="3.61" height="9.28" fill="#c9c9cf"/>
<rect x="481.42" y="183.50" width="3.61" height="9.28" fill="#c9c9cf"/>
<rect x="485.53" y="183.50" width="3.61" height="9.28" fill="#c9c9cf"/>
<rect x="66.98" y="192.78" width="3.62" height="9.28" fill="#f5d36f"/>
<rect x="71.10" y="192.78" width="3.62" height="9.28" fill="#c9c9cf"/>
<rect x="75.22" y="192.78" width="3.62" height="9.28" fill="#c9c9cf"/>
<rect x="104.03" y="192.78" width="3.62" height="9.28" fill="#f8e6b4"/>
<rect x="177.86" y="192.78" width="3.59" height="9.28" fill="#f5d36f"/>
<rect x="243.32" y="192.78" width="3.59" height="9.28" fill="#efbd00"/>
<rect x="288.45" y="192.78" width="3.63" height="9.28" fill="#f5d36f"/>
<rect x="390.97" y="192.78" width="3.61" height="9.28" fill="#efbd00"/>
<rect x="66.98" y="202.05" width="3.62" height="9.28" fill="#f5d36f"/>
<rect x="165.58" y="202.05" width="3.59" height="9.28" fill="#c9c9cf"/>
<rect x="177.86" y="202.05" width="3.59" height="9.28" fill="#efbd00"/>
<rect x="247.41" y="202.05" width="3.59" height="9.28" fill="#efbd00"/>
<rect x="284.32" y="202.05" width="3.63" height="9.28" fill="#f5d36f"/>
<rect x="407.42" y="202.05" width="3.61" height="9.28" fill="#c9c9cf"/>
<rect x="489.64" y="202.05" width="3.61" height="9.28" fill="#c9c9cf"/>
<rect x="141.03" y="211.33" width="3.59" height="9.28" fill="#c9c9cf"/>
<rect x="202.40" y="211.33" width="3.59" height="9.28" fill="#f5d36f"/>
<rect x="226.95" y="211.33" width="3.59" height="9.28" fill="#f8e6b4"/>
<rect x="247.41" y="211.33" width="3.59" height="9.28" fill="#efbd00"/>
<rect x="263.78" y="211.33" width="3.59" height="9.28" fill="#f5d36f"/>
<rect x="411.53" y="211.33" width="3.61" height="9.28" fill="#efbd00"/>
<rect x="157.40" y="220.61" width="3.59" height="9.28" fill="#c9c9cf"/>
<rect x="206.50" y="220.61" width="3.59" height="9.28" fill="#c9c9cf"/>
<rect x="403.31" y="220.61" width="3.61" height="9.28" fill="#c9c9cf"/>
<rect x="444.42" y="220.61" width="3.61" height="9.28" fill="#c9c9cf"/>
<rect x="456.75" y="220.61" width="3.61" height="9.28" fill="#c9c9cf"/>
<rect x="460.86" y="220.61" width="3.61" height="9.28" fill="#c9c9cf"/>
<rect x="181.95" y="229.88" width="3.59" height="9.28" fill="#c9c9cf"/>
<rect x="251.50" y="229.88" width="3.59" height="9.28" fill="#c9c9cf"/>
<rect x="390.97" y="229.88" width="3.61" height="9.28" fill="#c9c9cf"/>
<rect x="415.64" y="229.88" width="3.61" height="9.28" fill="#efbd00"/>
<rect x="423.86" y="229.88" width="3.61" height="9.28" fill="#c9c9cf"/>
<rect x="448.53" y="229.88" width="3.61" height="9.28" fill="#c9c9cf"/>
<rect x="141.03" y="239.16" width="3.59" height="9.28" fill="#c9c9cf"/>
<rect x="194.22" y="239.16" width="3.59" height="9.28" fill="#f5d36f"/>
<rect x="198.31" y="239.16" width="3.59" height="9.28" fill="#efbd00"/>
<rect x="276.05" y="239.16" width="3.63" height="9.28" fill="#c9c9cf"/>
<rect x="325.65" y="239.16" width="3.58" height="9.28" fill="#efbd00"/>
<rect x="104.03" y="248.44" width="3.62" height="9.28" fill="#c9c9cf"/>
<rect x="116.38" y="248.44" width="3.62" height="9.28" fill="#efbd00"/>
<rect x="177.86" y="248.44" width="3.59" height="9.28" fill="#f8e6b4"/>
<rect x="190.13" y="248.44" width="3.59" height="9.28" fill="#efbd00"/>
<rect x="280.18" y="248.44" width="3.63" height="9.28" fill="#efbd00"/>
<rect x="231.04" y="257.71" width="3.59" height="9.28" fill="#c9c9cf"/>
<rect x="259.68" y="257.71" width="3.59" height="9.28" fill="#efbd00"/>
<rect x="382.75" y="257.71" width="3.61" height="9.28" fill="#f8e6b4"/>
<rect x="395.08" y="257.71" width="3.61" height="9.28" fill="#efbd00"/>
<rect x="423.86" y="257.71" width="3.61" height="9.28" fill="#c9c9cf"/>
<rect x="128.73" y="266.99" width="3.62" height="9.28" fill="#c9c9cf"/>
<rect x="198.31" y="266.99" width="3.59" height="9.28" fill="#c9c9cf"/>
<rect x="202.40" y="266.99" width="3.59" height="9.28" fill="#efbd00"/>
<rect x="210.59" y="266.99" width="3.59" height="9.28" fill="#c9c9cf"/>
<rect x="325.65" y="266.99" width="3.58" height="9.28" fill="#c9c9cf"/>
<rect x="6.9" y="54.0" width="51.6" height="222.3" fill="none" stroke="#333" stroke-width="1"/>
<text x="8.6" y="61.72" class="t3" font-size="7.65" font-style="italic" fill="#222">ASXL1</text>
<text x="8.6" y="71.00" class="t3" font-size="7.65" font-style="italic" fill="#222">TET2</text>
<text x="8.6" y="80.27" class="t3" font-size="7.65" font-style="italic" fill="#222">EZH2</text>
<text x="8.6" y="89.55" class="t3" font-size="7.65" font-style="italic" fill="#222">JAK2</text>
<text x="8.6" y="98.83" class="t3" font-size="7.65" font-style="italic" fill="#222">SRSF2</text>
<text x="8.6" y="108.10" class="t3" font-size="7.65" font-style="italic" fill="#222">U2AF1</text>
<text x="8.6" y="117.38" class="t3" font-size="7.65" font-style="italic" fill="#222">RUNX1</text>
<text x="8.6" y="126.66" class="t3" font-size="7.65" font-style="italic" fill="#222">STAG2</text>
<text x="8.6" y="135.94" class="t3" font-size="7.65" font-style="italic" fill="#222">DNMT3A</text>
<text x="8.6" y="145.21" class="t3" font-size="7.65" font-style="italic" fill="#222">SETBP1</text>
<text x="8.6" y="154.49" class="t3" font-size="7.65" font-style="italic" fill="#222">TP53</text>
<text x="8.6" y="163.77" class="t3" font-size="7.65" font-style="italic" fill="#222">GATA2</text>
<text x="8.6" y="173.04" class="t3" font-size="7.65" font-style="italic" fill="#222">NRAS</text>
<text x="8.6" y="182.32" class="t3" font-size="7.65" font-style="italic" fill="#222">SF3B1</text>
<text x="8.6" y="191.60" class="t3" font-size="7.65" font-style="italic" fill="#222">MPL</text>
<text x="8.6" y="200.88" class="t3" font-size="7.65" font-style="italic" fill="#222">CUX1</text>
<text x="8.6" y="210.15" class="t3" font-size="7.65" font-style="italic" fill="#222">CBL</text>
<text x="8.6" y="219.43" class="t3" font-size="7.65" font-style="italic" fill="#222">CSF3R</text>
<text x="8.6" y="228.71" class="t3" font-size="7.65" font-style="italic" fill="#222">IDH1</text>
<text x="8.6" y="237.98" class="t3" font-size="7.65" font-style="italic" fill="#222">ZRSR2</text>
<text x="8.6" y="247.26" class="t3" font-size="7.65" font-style="italic" fill="#222">CEBPA</text>
<text x="8.6" y="256.54" class="t3" font-size="7.65" font-style="italic" fill="#222">KRAS</text>
<text x="8.6" y="265.81" class="t3" font-size="7.65" font-style="italic" fill="#222">PTPN11</text>
<text x="8.6" y="275.09" class="t3" font-size="7.65" font-style="italic" fill="#222">ZBTB33</text>
<line x1="6.9" y1="54.0" x2="493.5" y2="54.0" stroke="#222" stroke-width="1.2"/>
<line x1="58.5" y1="22.7" x2="58.5" y2="276.3" stroke="#222" stroke-width="1"/>
<line x1="493.5" y1="22.7" x2="493.5" y2="276.3" stroke="#222" stroke-width="1"/>
<line x1="6.9" y1="276.3" x2="493.5" y2="276.3" stroke="#222" stroke-width="1"/>
<line x1="132.6" y1="22.7" x2="132.6" y2="276.3" stroke="#222" stroke-width="1"/>
<line x1="275.8" y1="22.7" x2="275.8" y2="276.3" stroke="#222" stroke-width="1"/>
<line x1="325.4" y1="22.7" x2="325.4" y2="276.3" stroke="#222" stroke-width="1"/>
<line x1="382.5" y1="22.7" x2="382.5" y2="276.3" stroke="#222" stroke-width="1"/>
<text x="7.2" y="304.9" font-size="11.2" font-weight="bold" fill="#000" stroke="#000" stroke-width="0.4">B</text>
<text x="141.3" y="315.6" class="t4" font-size="9.4" text-anchor="middle" fill="#222">Frequency of ancestral/secondary</text>
<text x="141.3" y="325.4" class="t4" font-size="9.4" text-anchor="middle" fill="#222">mutations (n=106)</text>
<line x1="27.5" y1="331.5" x2="27.5" y2="409.3" stroke="#111" stroke-width="1.1"/>
<line x1="27.5" y1="409.3" x2="255.3" y2="409.3" stroke="#111" stroke-width="1.3"/>
<line x1="24.5" y1="409.30" x2="27.5" y2="409.30" stroke="#111" stroke-width="0.9"/>
<text class="t2" x="21.2" y="411.40" font-size="7" text-anchor="end" fill="#333">0%</text>
<line x1="24.5" y1="394.24" x2="27.5" y2="394.24" stroke="#111" stroke-width="0.9"/>
<text class="t2" x="21.2" y="396.34" font-size="7" text-anchor="end" fill="#333">10%</text>
<line x1="24.5" y1="379.18" x2="27.5" y2="379.18" stroke="#111" stroke-width="0.9"/>
<text class="t2" x="21.2" y="381.28" font-size="7" text-anchor="end" fill="#333">20%</text>
<line x1="24.5" y1="364.12" x2="27.5" y2="364.12" stroke="#111" stroke-width="0.9"/>
<text class="t2" x="21.2" y="366.22" font-size="7" text-anchor="end" fill="#333">30%</text>
<line x1="24.5" y1="349.06" x2="27.5" y2="349.06" stroke="#111" stroke-width="0.9"/>
<text class="t2" x="21.2" y="351.16" font-size="7" text-anchor="end" fill="#333">40%</text>
<line x1="24.5" y1="334.00" x2="27.5" y2="334.00" stroke="#111" stroke-width="0.9"/>
<text class="t2" x="21.2" y="336.10" font-size="7" text-anchor="end" fill="#333">50%</text>
<rect x="29.20" y="351.32" width="1.6" height="57.98" fill="#c8c8d0"/>
<rect x="31.00" y="392.58" width="1.8" height="16.72" fill="#efbd00"/>
<rect x="33.00" y="405.23" width="1.8" height="4.07" fill="#e38c0d"/>
<rect x="38.70" y="378.28" width="1.6" height="31.02" fill="#c8c8d0"/>
<rect x="40.50" y="401.17" width="1.8" height="8.13" fill="#efbd00"/>
<rect x="42.50" y="393.79" width="1.8" height="15.51" fill="#e38c0d"/>
<rect x="48.20" y="389.87" width="1.6" height="19.43" fill="#c8c8d0"/>
<rect x="50.00" y="396.80" width="1.8" height="12.50" fill="#efbd00"/>
<rect x="52.00" y="405.23" width="1.8" height="4.07" fill="#e38c0d"/>
<rect x="57.70" y="391.23" width="1.6" height="18.07" fill="#c8c8d0"/>
<rect x="59.50" y="389.42" width="1.8" height="19.88" fill="#efbd00"/>
<rect x="67.20" y="379.63" width="1.6" height="29.67" fill="#c8c8d0"/>
<rect x="69.00" y="403.88" width="1.8" height="5.42" fill="#efbd00"/>
<rect x="76.70" y="387.16" width="1.6" height="22.14" fill="#c8c8d0"/>
<rect x="78.50" y="403.88" width="1.8" height="5.42" fill="#efbd00"/>
<rect x="86.20" y="394.09" width="1.6" height="15.21" fill="#c8c8d0"/>
<rect x="88.00" y="399.51" width="1.8" height="9.79" fill="#efbd00"/>
<rect x="95.70" y="395.44" width="1.6" height="13.86" fill="#c8c8d0"/>
<rect x="97.50" y="399.51" width="1.8" height="9.79" fill="#efbd00"/>
<rect x="105.20" y="396.80" width="1.6" height="12.50" fill="#c8c8d0"/>
<rect x="107.00" y="407.79" width="1.8" height="1.51" fill="#efbd00"/>
<rect x="109.00" y="403.88" width="1.8" height="5.42" fill="#e38c0d"/>
<rect x="114.70" y="399.96" width="1.6" height="9.34" fill="#c8c8d0"/>
<rect x="116.50" y="400.87" width="1.8" height="8.43" fill="#efbd00"/>
<rect x="124.20" y="395.44" width="1.6" height="13.86" fill="#c8c8d0"/>
<rect x="126.00" y="407.79" width="1.8" height="1.51" fill="#efbd00"/>
<rect x="128.00" y="405.23" width="1.8" height="4.07" fill="#e38c0d"/>
<rect x="133.70" y="404.03" width="1.6" height="5.27" fill="#c8c8d0"/>
<rect x="135.50" y="398.16" width="1.8" height="11.14" fill="#efbd00"/>
<rect x="137.50" y="408.55" width="1.8" height="0.75" fill="#e38c0d"/>
<rect x="145.00" y="391.23" width="1.8" height="18.07" fill="#efbd00"/>
<rect x="152.70" y="392.73" width="1.6" height="16.57" fill="#c8c8d0"/>
<rect x="162.20" y="399.81" width="1.6" height="9.49" fill="#c8c8d0"/>
<rect x="164.00" y="408.55" width="1.8" height="0.75" fill="#efbd00"/>
<rect x="171.70" y="406.44" width="1.6" height="2.86" fill="#c8c8d0"/>
<rect x="173.50" y="401.02" width="1.8" height="8.28" fill="#efbd00"/>
<rect x="181.20" y="405.23" width="1.6" height="4.07" fill="#c8c8d0"/>
<rect x="183.00" y="403.88" width="1.8" height="5.42" fill="#efbd00"/>
<rect x="190.70" y="408.55" width="1.6" height="0.75" fill="#c8c8d0"/>
<rect x="192.50" y="402.82" width="1.8" height="6.48" fill="#efbd00"/>
<rect x="200.20" y="401.32" width="1.6" height="7.98" fill="#c8c8d0"/>
<rect x="209.70" y="402.52" width="1.6" height="6.78" fill="#c8c8d0"/>
<rect x="211.50" y="408.55" width="1.8" height="0.75" fill="#efbd00"/>
<rect x="219.20" y="406.74" width="1.6" height="2.56" fill="#c8c8d0"/>
<rect x="221.00" y="405.23" width="1.8" height="4.07" fill="#efbd00"/>
<rect x="228.70" y="408.85" width="1.6" height="0.45" fill="#c8c8d0"/>
<rect x="230.50" y="403.88" width="1.8" height="5.42" fill="#efbd00"/>
<rect x="238.20" y="406.74" width="1.6" height="2.56" fill="#c8c8d0"/>
<rect x="240.00" y="405.23" width="1.8" height="4.07" fill="#efbd00"/>
<rect x="247.70" y="403.88" width="1.6" height="5.42" fill="#c8c8d0"/>
<rect x="249.50" y="408.40" width="1.8" height="0.90" fill="#efbd00"/>
<text x="32.30" y="415.10" class="t2" font-size="6.3" font-style="italic" text-anchor="end" fill="#333" transform="rotate(-45 32.30 415.10)">ASXL1</text>
<text x="41.94" y="415.10" class="t2" font-size="6.3" font-style="italic" text-anchor="end" fill="#333" transform="rotate(-45 41.94 415.10)">TET2</text>
<text x="51.58" y="415.10" class="t2" font-size="6.3" font-style="italic" text-anchor="end" fill="#333" transform="rotate(-45 51.58 415.10)">EZH2</text>
<text x="61.22" y="415.10" class="t2" font-size="6.3" font-style="italic" text-anchor="end" fill="#333" transform="rotate(-45 61.22 415.10)">JAK2</text>
<text x="70.86" y="415.10" class="t2" font-size="6.3" font-style="italic" text-anchor="end" fill="#333" transform="rotate(-45 70.86 415.10)">SRSF2</text>
<text x="80.50" y="415.10" class="t2" font-size="6.3" font-style="italic" text-anchor="end" fill="#333" transform="rotate(-45 80.50 415.10)">U2AF1</text>
<text x="90.14" y="415.10" class="t2" font-size="6.3" font-style="italic" text-anchor="end" fill="#333" transform="rotate(-45 90.14 415.10)">RUNX1</text>
<text x="99.78" y="415.10" class="t2" font-size="6.3" font-style="italic" text-anchor="end" fill="#333" transform="rotate(-45 99.78 415.10)">STAG2</text>
<text x="109.42" y="415.10" class="t2" font-size="6.3" font-style="italic" text-anchor="end" fill="#333" transform="rotate(-45 109.42 415.10)">DNMT3A</text>
<text x="119.06" y="415.10" class="t2" font-size="6.3" font-style="italic" text-anchor="end" fill="#333" transform="rotate(-45 119.06 415.10)">SETBP1</text>
<text x="128.70" y="415.10" class="t2" font-size="6.3" font-style="italic" text-anchor="end" fill="#333" transform="rotate(-45 128.70 415.10)">TP53</text>
<text x="138.34" y="415.10" class="t2" font-size="6.3" font-style="italic" text-anchor="end" fill="#333" transform="rotate(-45 138.34 415.10)">GATA2</text>
<text x="147.98" y="415.10" class="t2" font-size="6.3" font-style="italic" text-anchor="end" fill="#333" transform="rotate(-45 147.98 415.10)">NRAS</text>
<text x="157.62" y="415.10" class="t2" font-size="6.3" font-style="italic" text-anchor="end" fill="#333" transform="rotate(-45 157.62 415.10)">SF3B1</text>
<text x="167.26" y="415.10" class="t2" font-size="6.3" font-style="italic" text-anchor="end" fill="#333" transform="rotate(-45 167.26 415.10)">MPL</text>
<text x="176.90" y="415.10" class="t2" font-size="6.3" font-style="italic" text-anchor="end" fill="#333" transform="rotate(-45 176.90 415.10)">CUX1</text>
<text x="186.54" y="415.10" class="t2" font-size="6.3" font-style="italic" text-anchor="end" fill="#333" transform="rotate(-45 186.54 415.10)">CBL</text>
<text x="196.18" y="415.10" class="t2" font-size="6.3" font-style="italic" text-anchor="end" fill="#333" transform="rotate(-45 196.18 415.10)">CSF3R</text>
<text x="205.82" y="415.10" class="t2" font-size="6.3" font-style="italic" text-anchor="end" fill="#333" transform="rotate(-45 205.82 415.10)">IDH1</text>
<text x="215.46" y="415.10" class="t2" font-size="6.3" font-style="italic" text-anchor="end" fill="#333" transform="rotate(-45 215.46 415.10)">ZRSR2</text>
<text x="225.10" y="415.10" class="t2" font-size="6.3" font-style="italic" text-anchor="end" fill="#333" transform="rotate(-45 225.10 415.10)">CEBPA</text>
<text x="234.74" y="415.10" class="t2" font-size="6.3" font-style="italic" text-anchor="end" fill="#333" transform="rotate(-45 234.74 415.10)">KRAS</text>
<text x="244.38" y="415.10" class="t2" font-size="6.3" font-style="italic" text-anchor="end" fill="#333" transform="rotate(-45 244.38 415.10)">PTPN11</text>
<text x="254.02" y="415.10" class="t2" font-size="6.3" font-style="italic" text-anchor="end" fill="#333" transform="rotate(-45 254.02 415.10)">ZBTB33</text>
<rect x="88.5" y="440" width="3.8" height="3.6" fill="#c2c2ca"/>
<text class="t2" x="96.3" y="444" font-size="6" fill="#333">Ancestral</text>
<rect x="129.9" y="440" width="3.8" height="3.6" fill="#e38c0d"/>
<text class="t2" x="137.2" y="444" font-size="5.9" fill="#333">Secondary</text>
<rect x="174.6" y="440" width="3.8" height="3.6" fill="#efbd00"/>
<text class="t2" x="181.9" y="444" font-size="6" fill="#333">Both</text>
<text x="399.4" y="315.6" class="t4" font-size="9.4" text-anchor="middle" fill="#222">Frequency of ancestral/secondary</text>
<text x="399.4" y="325.4" class="t4" font-size="9.4" text-anchor="middle" fill="#222">mutations (n=65)</text>
<line x1="285.5" y1="331.5" x2="285.5" y2="409.3" stroke="#111" stroke-width="1.1"/>
<line x1="285.5" y1="409.3" x2="513.1" y2="409.3" stroke="#111" stroke-width="1.3"/>
<line x1="282.5" y1="409.30" x2="285.5" y2="409.30" stroke="#111" stroke-width="0.9"/>
<text class="t2" x="279.2" y="411.40" font-size="7" text-anchor="end" fill="#333">0%</text>
<line x1="282.5" y1="394.24" x2="285.5" y2="394.24" stroke="#111" stroke-width="0.9"/>
<text class="t2" x="279.2" y="396.34" font-size="7" text-anchor="end" fill="#333">10%</text>
<line x1="282.5" y1="379.18" x2="285.5" y2="379.18" stroke="#111" stroke-width="0.9"/>
<text class="t2" x="279.2" y="381.28" font-size="7" text-anchor="end" fill="#333">20%</text>
<line x1="282.5" y1="364.12" x2="285.5" y2="364.12" stroke="#111" stroke-width="0.9"/>
<text class="t2" x="279.2" y="366.22" font-size="7" text-anchor="end" fill="#333">30%</text>
<line x1="282.5" y1="349.06" x2="285.5" y2="349.06" stroke="#111" stroke-width="0.9"/>
<text class="t2" x="279.2" y="351.16" font-size="7" text-anchor="end" fill="#333">40%</text>
<line x1="282.5" y1="334.00" x2="285.5" y2="334.00" stroke="#111" stroke-width="0.9"/>
<text class="t2" x="279.2" y="336.10" font-size="7" text-anchor="end" fill="#333">50%</text>
<rect x="287.40" y="349.51" width="1.6" height="59.79" fill="#c8c8d0"/>
<rect x="289.20" y="381.59" width="1.8" height="27.71" fill="#efbd00"/>
<rect x="291.20" y="402.52" width="1.8" height="6.78" fill="#e38c0d"/>
<rect x="296.90" y="377.52" width="1.6" height="31.78" fill="#c8c8d0"/>
<rect x="298.70" y="395.29" width="1.8" height="14.01" fill="#efbd00"/>
<rect x="300.70" y="384.00" width="1.8" height="25.30" fill="#e38c0d"/>
<rect x="306.40" y="386.41" width="1.6" height="22.89" fill="#c8c8d0"/>
<rect x="308.20" y="388.52" width="1.8" height="20.78" fill="#efbd00"/>
<rect x="310.20" y="402.52" width="1.8" height="6.78" fill="#e38c0d"/>
<rect x="315.90" y="393.34" width="1.6" height="15.96" fill="#c8c8d0"/>
<rect x="317.70" y="377.07" width="1.8" height="32.23" fill="#efbd00"/>
<rect x="325.40" y="384.00" width="1.6" height="25.30" fill="#c8c8d0"/>
<rect x="327.20" y="400.26" width="1.8" height="9.04" fill="#efbd00"/>
<rect x="334.90" y="388.52" width="1.6" height="20.78" fill="#c8c8d0"/>
<rect x="336.70" y="400.26" width="1.8" height="9.04" fill="#efbd00"/>
<rect x="344.40" y="391.38" width="1.6" height="17.92" fill="#c8c8d0"/>
<rect x="346.20" y="393.34" width="1.8" height="15.96" fill="#efbd00"/>
<rect x="353.90" y="393.34" width="1.6" height="15.96" fill="#c8c8d0"/>
<rect x="355.70" y="393.34" width="1.8" height="15.96" fill="#efbd00"/>
<rect x="363.40" y="402.52" width="1.6" height="6.78" fill="#c8c8d0"/>
<rect x="365.20" y="407.19" width="1.8" height="2.11" fill="#efbd00"/>
<rect x="367.20" y="400.41" width="1.8" height="8.89" fill="#e38c0d"/>
<rect x="372.90" y="402.52" width="1.6" height="6.78" fill="#c8c8d0"/>
<rect x="374.70" y="395.75" width="1.8" height="13.55" fill="#efbd00"/>
<rect x="382.40" y="395.75" width="1.6" height="13.55" fill="#c8c8d0"/>
<rect x="384.20" y="407.19" width="1.8" height="2.11" fill="#efbd00"/>
<rect x="386.20" y="402.52" width="1.8" height="6.78" fill="#e38c0d"/>
<rect x="391.90" y="407.34" width="1.6" height="1.96" fill="#c8c8d0"/>
<rect x="393.70" y="391.23" width="1.8" height="18.07" fill="#efbd00"/>
<rect x="395.70" y="407.19" width="1.8" height="2.11" fill="#e38c0d"/>
<rect x="403.20" y="379.48" width="1.8" height="29.82" fill="#efbd00"/>
<rect x="410.90" y="395.60" width="1.6" height="13.70" fill="#c8c8d0"/>
<rect x="420.40" y="408.55" width="1.6" height="0.75" fill="#c8c8d0"/>
<rect x="422.20" y="407.19" width="1.8" height="2.11" fill="#efbd00"/>
<rect x="429.90" y="408.55" width="1.6" height="0.75" fill="#c8c8d0"/>
<rect x="431.70" y="395.75" width="1.8" height="13.55" fill="#efbd00"/>
<rect x="439.40" y="408.55" width="1.6" height="0.75" fill="#c8c8d0"/>
<rect x="441.20" y="400.26" width="1.8" height="9.04" fill="#efbd00"/>
<rect x="450.70" y="398.31" width="1.8" height="10.99" fill="#efbd00"/>
<rect x="458.40" y="404.93" width="1.6" height="4.37" fill="#c8c8d0"/>
<rect x="467.90" y="402.52" width="1.6" height="6.78" fill="#c8c8d0"/>
<rect x="469.70" y="407.04" width="1.8" height="2.26" fill="#efbd00"/>
<rect x="477.40" y="407.79" width="1.6" height="1.51" fill="#c8c8d0"/>
<rect x="479.20" y="402.52" width="1.8" height="6.78" fill="#efbd00"/>
<rect x="486.90" y="407.79" width="1.6" height="1.51" fill="#c8c8d0"/>
<rect x="488.70" y="399.96" width="1.8" height="9.34" fill="#efbd00"/>
<rect x="496.40" y="404.93" width="1.6" height="4.37" fill="#c8c8d0"/>
<rect x="498.20" y="402.52" width="1.8" height="6.78" fill="#efbd00"/>
<rect x="505.90" y="402.52" width="1.6" height="6.78" fill="#c8c8d0"/>
<rect x="507.70" y="407.04" width="1.8" height="2.26" fill="#efbd00"/>
<text x="290.50" y="415.10" class="t2" font-size="6.3" font-style="italic" text-anchor="end" fill="#333" transform="rotate(-45 290.50 415.10)">ASXL1</text>
<text x="300.14" y="415.10" class="t2" font-size="6.3" font-style="italic" text-anchor="end" fill="#333" transform="rotate(-45 300.14 415.10)">TET2</text>
<text x="309.78" y="415.10" class="t2" font-size="6.3" font-style="italic" text-anchor="end" fill="#333" transform="rotate(-45 309.78 415.10)">EZH2</text>
<text x="319.42" y="415.10" class="t2" font-size="6.3" font-style="italic" text-anchor="end" fill="#333" transform="rotate(-45 319.42 415.10)">JAK2</text>
<text x="329.06" y="415.10" class="t2" font-size="6.3" font-style="italic" text-anchor="end" fill="#333" transform="rotate(-45 329.06 415.10)">SRSF2</text>
<text x="338.70" y="415.10" class="t2" font-size="6.3" font-style="italic" text-anchor="end" fill="#333" transform="rotate(-45 338.70 415.10)">U2AF1</text>
<text x="348.34" y="415.10" class="t2" font-size="6.3" font-style="italic" text-anchor="end" fill="#333" transform="rotate(-45 348.34 415.10)">RUNX1</text>
<text x="357.98" y="415.10" class="t2" font-size="6.3" font-style="italic" text-anchor="end" fill="#333" transform="rotate(-45 357.98 415.10)">STAG2</text>
<text x="367.62" y="415.10" class="t2" font-size="6.3" font-style="italic" text-anchor="end" fill="#333" transform="rotate(-45 367.62 415.10)">DNMT3A</text>
<text x="377.26" y="415.10" class="t2" font-size="6.3" font-style="italic" text-anchor="end" fill="#333" transform="rotate(-45 377.26 415.10)">SETBP1</text>
<text x="386.90" y="415.10" class="t2" font-size="6.3" font-style="italic" text-anchor="end" fill="#333" transform="rotate(-45 386.90 415.10)">TP53</text>
<text x="396.54" y="415.10" class="t2" font-size="6.3" font-style="italic" text-anchor="end" fill="#333" transform="rotate(-45 396.54 415.10)">GATA2</text>
<text x="406.18" y="415.10" class="t2" font-size="6.3" font-style="italic" text-anchor="end" fill="#333" transform="rotate(-45 406.18 415.10)">NRAS</text>
<text x="415.82" y="415.10" class="t2" font-size="6.3" font-style="italic" text-anchor="end" fill="#333" transform="rotate(-45 415.82 415.10)">SF3B1</text>
<text x="425.46" y="415.10" class="t2" font-size="6.3" font-style="italic" text-anchor="end" fill="#333" transform="rotate(-45 425.46 415.10)">MPL</text>
<text x="435.10" y="415.10" class="t2" font-size="6.3" font-style="italic" text-anchor="end" fill="#333" transform="rotate(-45 435.10 415.10)">CUX1</text>
<text x="444.74" y="415.10" class="t2" font-size="6.3" font-style="italic" text-anchor="end" fill="#333" transform="rotate(-45 444.74 415.10)">CBL</text>
<text x="454.38" y="415.10" class="t2" font-size="6.3" font-style="italic" text-anchor="end" fill="#333" transform="rotate(-45 454.38 415.10)">CSF3R</text>
<text x="464.02" y="415.10" class="t2" font-size="6.3" font-style="italic" text-anchor="end" fill="#333" transform="rotate(-45 464.02 415.10)">IDH1</text>
<text x="473.66" y="415.10" class="t2" font-size="6.3" font-style="italic" text-anchor="end" fill="#333" transform="rotate(-45 473.66 415.10)">ZRSR2</text>
<text x="483.30" y="415.10" class="t2" font-size="6.3" font-style="italic" text-anchor="end" fill="#333" transform="rotate(-45 483.30 415.10)">CEBPA</text>
<text x="492.94" y="415.10" class="t2" font-size="6.3" font-style="italic" text-anchor="end" fill="#333" transform="rotate(-45 492.94 415.10)">KRAS</text>
<text x="502.58" y="415.10" class="t2" font-size="6.3" font-style="italic" text-anchor="end" fill="#333" transform="rotate(-45 502.58 415.10)">PTPN11</text>
<text x="512.22" y="415.10" class="t2" font-size="6.3" font-style="italic" text-anchor="end" fill="#333" transform="rotate(-45 512.22 415.10)">ZBTB33</text>
<rect x="346.5" y="440" width="3.8" height="3.6" fill="#c2c2ca"/>
<text class="t2" x="354.3" y="444" font-size="6" fill="#333">Ancestral</text>
<rect x="387.9" y="440" width="3.8" height="3.6" fill="#e38c0d"/>
<text class="t2" x="395.2" y="444" font-size="5.9" fill="#333">Secondary</text>
<rect x="432.6" y="440" width="3.8" height="3.6" fill="#efbd00"/>
<text class="t2" x="439.9" y="444" font-size="6" fill="#333">Both</text>
</svg></body></html>
